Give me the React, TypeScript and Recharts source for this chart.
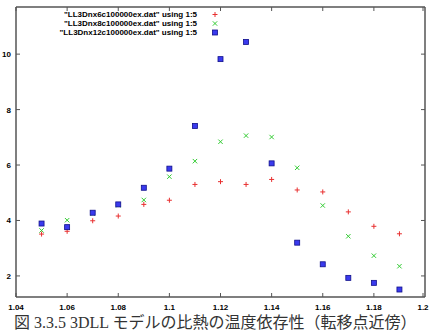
import React from 'react';
import { ScatterChart, Scatter, XAxis, YAxis } from 'recharts';

// temperature points (x) and specific heat values for each lattice size
const temps = [1.05, 1.06, 1.07, 1.08, 1.09, 1.1, 1.11, 1.12, 1.13, 1.14, 1.15, 1.16, 1.17, 1.18, 1.19];
const heat6c = [3.51, 3.61, 3.99, 4.16, 4.58, 4.73, 5.3, 5.4, 5.3, 5.48, 5.1, 5.03, 4.31, 3.79, 3.52];
const heat8c = [3.64, 4.01, 4.25, 4.55, 4.74, 5.58, 6.14, 6.84, 7.06, 7.01, 5.9, 4.54, 3.43, 2.73, 2.35];
const heat12c = [3.89, 3.76, 4.28, 4.58, 5.18, 5.87, 7.41, 9.82, 10.44, 6.06, 3.2, 2.42, 1.93, 1.75, 1.51];

const xTicks = [1.04, 1.06, 1.08, 1.1, 1.12, 1.14, 1.16, 1.18, 1.2];
const yTicks = [2, 4, 6, 8, 10];
const xDomain: [number, number] = [1.04, 1.2];
const yDomain: [number, number] = [1.24, 11.7];
const seriesNames = [
  '"LL3Dnx6c100000ex.dat" using 1:5',
  '"LL3Dnx8c100000ex.dat" using 1:5',
  '"LL3Dnx12c100000ex.dat" using 1:5',
];

const toPoints = (vals: number[]) => temps.map((t, i) => ({ x: t, y: vals[i] }));

const axisColor = '#555';
const frame = { stroke: axisColor, strokeWidth: 1.5 };
const tickFont = { fontFamily: '"Liberation Sans", Arial, sans-serif', fontSize: 8, fontWeight: 'bold' as const, fill: '#000' };

const Plus = ({ cx, cy }: any) => (
  <g stroke="#e83030" strokeWidth={1}>
    <line x1={cx - 2.5} x2={cx + 2.5} y1={cy} y2={cy} />
    <line x1={cx} x2={cx} y1={cy - 2.5} y2={cy + 2.5} />
  </g>
);
const Cross = ({ cx, cy }: any) => (
  <g stroke="#33cc33" strokeWidth={1}>
    <line x1={cx - 2.2} x2={cx + 2.2} y1={cy - 2.2} y2={cy + 2.2} />
    <line x1={cx - 2.2} x2={cx + 2.2} y1={cy + 2.2} y2={cy - 2.2} />
  </g>
);
const Square = ({ cx, cy }: any) => (
  <rect x={cx - 2.5} y={cy - 2.5} width={5} height={5} fill="#3a3aee" stroke="#10108a" strokeWidth={0.8} />
);

// gnuplot style: ticks point inwards, labels outside
const bottomTick = (p: any) => (
  <g key={`b${p.index}`}>
    <line x1={p.x} x2={p.x} y1={p.y} y2={p.y - 4} stroke={axisColor} strokeWidth={1} />
    <text x={p.x} y={p.y + 13} textAnchor="middle" {...tickFont}>{p.payload.value}</text>
  </g>
);
const topTick = (p: any) => <line key={`t${p.index}`} x1={p.x} x2={p.x} y1={p.y} y2={p.y + 4} stroke={axisColor} strokeWidth={1} />;
const leftTick = (p: any) => (
  <g key={`l${p.index}`}>
    <line x1={p.x} x2={p.x + 4} y1={p.y} y2={p.y} stroke={axisColor} strokeWidth={1} />
    <text x={p.x - 5} y={p.y + 3} textAnchor="end" {...tickFont}>{p.payload.value}</text>
  </g>
);
const rightTick = (p: any) => <line key={`r${p.index}`} x1={p.x} x2={p.x - 4} y1={p.y} y2={p.y} stroke={axisColor} strokeWidth={1} />;

const markers = [Plus, Cross, Square];

export default function App() {
  return (
    <div style={{ position: 'absolute', left: 0, top: 0, width: 433, height: 331, overflow: 'hidden', background: '#fff' }}>
      <ScatterChart width={433} height={331} margin={{ top: 6, right: 0, left: 0, bottom: 0 }}>
        <XAxis xAxisId="b" type="number" dataKey="x" domain={xDomain} ticks={xTicks} orientation="bottom" height={34}
          axisLine={frame} tickLine={false} tickSize={0} tickMargin={0} tick={bottomTick} allowDataOverflow />
        <XAxis xAxisId="t" type="number" dataKey="x" domain={xDomain} ticks={xTicks} orientation="top" height={1}
          axisLine={frame} tickLine={false} tickSize={0} tickMargin={0} tick={topTick} allowDataOverflow />
        <YAxis yAxisId="l" type="number" dataKey="y" domain={yDomain} ticks={yTicks} orientation="left" width={16}
          axisLine={frame} tickLine={false} tickSize={0} tickMargin={0} tick={leftTick} allowDataOverflow />
        <YAxis yAxisId="r" type="number" dataKey="y" domain={yDomain} ticks={yTicks} orientation="right" width={8}
          axisLine={frame} tickLine={false} tickSize={0} tickMargin={0} tick={rightTick} allowDataOverflow />
        <Scatter name={seriesNames[0]} data={toPoints(heat6c)} xAxisId="b" yAxisId="l" shape={<Plus />} isAnimationActive={false} />
        <Scatter name={seriesNames[1]} data={toPoints(heat8c)} xAxisId="b" yAxisId="l" shape={<Cross />} isAnimationActive={false} />
        <Scatter name={seriesNames[2]} data={toPoints(heat12c)} xAxisId="b" yAxisId="l" shape={<Square />} isAnimationActive={false} />
      </ScatterChart>
      <div style={{ position: 'absolute', left: 0, top: 10, width: 222 }}>
        {seriesNames.map((name, i) => {
          const Marker = markers[i];
          return (
            <div key={name} style={{ display: 'flex', alignItems: 'center', height: 9 }}>
              <span style={{ width: 197, textAlign: 'right', whiteSpace: 'nowrap', fontFamily: tickFont.fontFamily, fontSize: 8, fontWeight: 'bold', lineHeight: '9px' }}>
                {name}
              </span>
              <svg width={25} height={9} style={{ display: 'block' }}>
                <Marker cx={18} cy={4.5} />
              </svg>
            </div>
          );
        })}
      </div>
      <div style={{ position: 'absolute', left: 14, top: 314, whiteSpace: 'nowrap', fontFamily: '"Liberation Serif", "Noto Sans CJK JP", serif', fontSize: 16, lineHeight: '17px', color: '#333' }}>
        図 3.3.5 3DLL モデルの比熱の温度依存性（転移点近傍）
      </div>
    </div>
  );
}
